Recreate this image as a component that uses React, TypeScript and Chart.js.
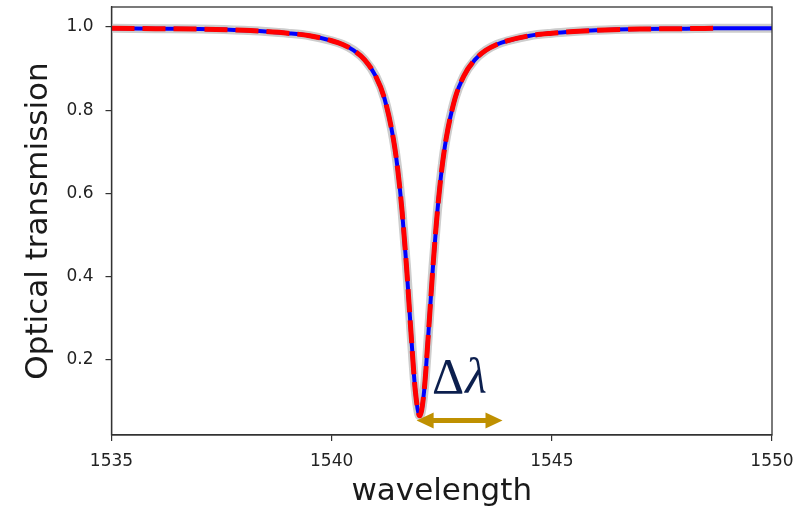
import React, { useEffect, useRef } from "react";
import { Chart, registerables } from "chart.js";

Chart.register(...registerables);

// Wavelength samples (nm)
const wavelength = [
  1535, 1536, 1537, 1538, 1538.5, 1539, 1539.5, 1540, 1540.25, 1540.5, 1540.75,
  1541, 1541.2, 1541.4, 1541.5, 1541.6, 1541.7, 1541.8, 1541.9, 1542.0,
  1542.1, 1542.2, 1542.3, 1542.4, 1542.5, 1542.6, 1542.8, 1543, 1543.25,
  1543.5, 1543.75, 1544, 1544.5, 1545, 1545.5, 1546, 1547, 1548, 1548.7, 1549, 1550,
];
// Measured transmission (blue solid)
const measured = [
  0.997, 0.996, 0.995, 0.992, 0.989, 0.985, 0.979, 0.967, 0.958, 0.944, 0.921,
  0.882, 0.828, 0.732, 0.658, 0.556, 0.424, 0.268, 0.126, 0.066,
  0.126, 0.268, 0.424, 0.556, 0.658, 0.732, 0.828, 0.882, 0.921,
  0.944, 0.958, 0.967, 0.979, 0.985, 0.989, 0.992, 0.995, 0.996, 0.997, 0.997, 0.997,
];
// Fitted curve (red dashed) — ends at 1548.7 nm
const fitted = [
  0.997, 0.996, 0.995, 0.992, 0.989, 0.985, 0.979, 0.967, 0.958, 0.944, 0.921,
  0.882, 0.828, 0.732, 0.658, 0.556, 0.424, 0.268, 0.126, 0.066,
  0.126, 0.268, 0.424, 0.556, 0.658, 0.732, 0.828, 0.882, 0.921,
  0.944, 0.958, 0.967, 0.979, 0.985, 0.989, 0.992, 0.995, 0.996, 0.997,
];
const xTicks = [1535, 1540, 1545, 1550];
const yTicks = [0.2, 0.4, 0.6, 0.8, 1.0];

// Δλ annotation (data units)
const arrowFrom = 1541.93;
const arrowTo = 1543.88;
const arrowLevel = 0.055;
const deltaLabelX = 1542.28;
const deltaLabelY = 0.12;

const measuredPts = wavelength.map((x, i) => ({ x, y: measured[i] }));
const fittedPts = fitted.map((y, i) => ({ x: wavelength[i], y }));

const decorations = {
  id: "decorations",
  afterDatasetsDraw(chart: any) {
    const { ctx, chartArea, scales } = chart;
    const xs = scales.x;
    const ys = scales.y;
    ctx.save();
    // frame
    ctx.strokeStyle = "#333";
    ctx.lineWidth = 1.3;
    ctx.strokeRect(chartArea.left, chartArea.top, chartArea.right - chartArea.left, chartArea.bottom - chartArea.top);

    // arrow
    const x1 = xs.getPixelForValue(arrowFrom);
    const x2 = xs.getPixelForValue(arrowTo);
    const yy = ys.getPixelForValue(arrowLevel);
    const col = "#bf9000";
    const headL = 17;
    const headH = 8;
    ctx.fillStyle = col;
    ctx.strokeStyle = col;
    ctx.lineWidth = 5;
    ctx.beginPath();
    ctx.moveTo(x1 + headL - 2, yy);
    ctx.lineTo(x2 - headL + 2, yy);
    ctx.stroke();
    ctx.beginPath();
    ctx.moveTo(x1, yy);
    ctx.lineTo(x1 + headL, yy - headH);
    ctx.lineTo(x1 + headL, yy + headH);
    ctx.closePath();
    ctx.fill();
    ctx.beginPath();
    ctx.moveTo(x2, yy);
    ctx.lineTo(x2 - headL, yy - headH);
    ctx.lineTo(x2 - headL, yy + headH);
    ctx.closePath();
    ctx.fill();

    // Δλ label: upright Δ, italic λ
    ctx.fillStyle = "#0c1f4e";
    ctx.textAlign = "left";
    ctx.textBaseline = "alphabetic";
    const lx = xs.getPixelForValue(deltaLabelX);
    const ly = ys.getPixelForValue(deltaLabelY);
    ctx.font = "50px 'Liberation Serif', 'DejaVu Serif', serif";
    ctx.fillText("Δ", lx, ly);
    const dw = ctx.measureText("Δ").width;
    ctx.font = "italic 50px 'Liberation Serif', 'DejaVu Serif', serif";
    ctx.fillText("λ", lx + dw + 1, ly);

    // axis titles
    ctx.fillStyle = "#1a1a1a";
    ctx.font = "31px 'DejaVu Sans', sans-serif";
    ctx.textAlign = "center";
    ctx.fillText("wavelength", (chartArea.left + chartArea.right) / 2, 500);
    ctx.translate(47, (chartArea.top + chartArea.bottom) / 2);
    ctx.rotate(-Math.PI / 2);
    ctx.fillText("Optical transmission", 0, 0);
    ctx.restore();
  },
};

export default function App() {
  const ref = useRef<HTMLCanvasElement | null>(null);
  useEffect(() => {
    if (!ref.current) return;
    const chart = new Chart(ref.current, {
      type: "line",
      data: {
        datasets: [
          {
            data: measuredPts,
            borderColor: "rgba(205,205,205,1)",
            borderWidth: 9,
            pointRadius: 0,
            order: 3,
            cubicInterpolationMode: "monotone",
          },
          {
            data: measuredPts,
            borderColor: "#0000ff",
            borderWidth: 4,
            pointRadius: 0,
            order: 2,
            cubicInterpolationMode: "monotone",
          },
          {
            data: fittedPts,
            borderColor: "#ff0000",
            borderWidth: 5,
            borderDash: [23, 8],
            pointRadius: 0,
            order: 1,
            cubicInterpolationMode: "monotone",
          },
        ],
      },
      plugins: [decorations],
      options: {
        animation: false,
        responsive: false,
        layout: { padding: { top: 7, right: 27, left: 0, bottom: 0 } },
        plugins: { legend: { display: false }, tooltip: { enabled: false } },
        scales: {
          x: {
            type: "linear",
            min: 1535,
            max: 1550,
            afterFit: (s: any) => { s.height = 76; s.paddingLeft = 0; s.paddingRight = 0; },
            afterBuildTicks: (s: any) => { s.ticks = xTicks.map((v) => ({ value: v })); },
            grid: { drawOnChartArea: false, drawTicks: true, tickLength: 6, color: "#333", lineWidth: 1.2 },
            border: { display: true, color: "#333", width: 1.3 },
            ticks: {
              color: "#222",
              font: { family: "'DejaVu Sans', sans-serif", size: 17 },
              padding: 10,
              maxRotation: 0,
              callback: (v: any) => String(v),
            },
          },
          y: {
            type: "linear",
            min: 0.02,
            max: 1.048,
            afterFit: (s: any) => { s.width = 111.5; s.paddingTop = 0; s.paddingBottom = 0; },
            afterBuildTicks: (s: any) => { s.ticks = yTicks.map((v) => ({ value: v })); },
            grid: { drawOnChartArea: false, drawTicks: true, tickLength: 6, color: "#333", lineWidth: 1.2 },
            border: { display: true, color: "#333", width: 1.3 },
            ticks: {
              color: "#222",
              font: { family: "'DejaVu Sans', sans-serif", size: 17 },
              padding: 12,
              callback: (v: any) => Number(v).toFixed(1),
            },
          },
        },
      },
    });
    return () => chart.destroy();
  }, []);
  return (
    <div style={{ position: "fixed", left: 0, top: 0, width: 799, height: 511, background: "#fff" }}>
      <canvas ref={ref} width={799} height={511} style={{ display: "block" }} />
    </div>
  );
}
